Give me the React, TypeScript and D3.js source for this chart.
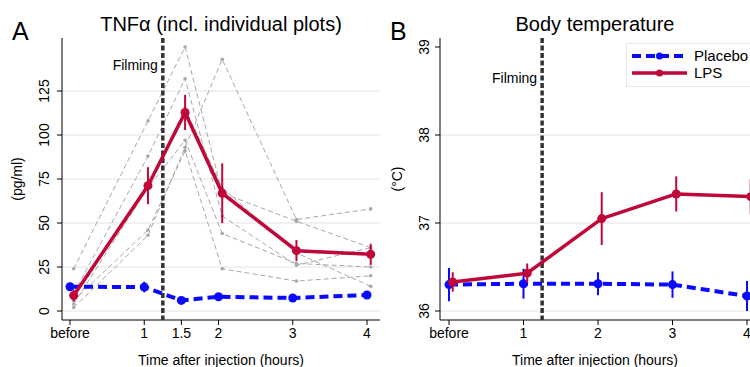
import * as d3 from 'd3'

// panel A: TNF-alpha (pg/ml)
const hoursA = [0, 1, 1.5, 2, 3, 4]
const tickLabelsA = ['before', '1', '1.5', '2', '3', '4']
const yTicksA = [0, 25, 50, 75, 100, 125]
const placeboA = [13.8, 13.6, 6.0, 8.1, 7.4, 9.1]
const placeboErrA = [1.5, 3, 1.5, 1.2, 1.2, 1.2]
const lpsA = [8.8, 71.2, 112.8, 66.9, 34.3, 32.2]
const lpsErrA = [3.3, 10.5, 10, 17, 6, 6]
const individuals = [
  [2, 43, 93, 143, 52, 58],
  [24, 108, 150, 67, 51, 36],
  [8, 70, 97, 44, 27, 25],
  [6, 46, 91, 24, 17, 20],
  [10, 88, 132, 54, 26, 36],
  [4, 70, 115, 70, 33, 14],
]

// panel B: body temperature (°C)
const hoursB = [0, 1, 2, 3, 4]
const tickLabelsB = ['before', '1', '2', '3', '4']
const yTicksB = [36, 37, 38, 39]
const placeboB = [36.3, 36.31, 36.31, 36.3, 36.17]
const placeboErrB = [0.19, 0.17, 0.13, 0.15, 0.17]
const lpsB = [36.33, 36.43, 37.05, 37.33, 37.3]
const lpsErrB = [0.11, 0.11, 0.3, 0.2, 0.2]

const RED = '#c0073a'
const BLUE = '#0a0aff'
const FONT = '"Liberation Sans", Arial, Helvetica, sans-serif'
const LPS_SHIFT = 0.05
const FILMING = 1.25

type PanelProps = {
  letter: string
  title: string
  ylabel: string
  hours: number[]
  tickLabels: string[]
  yTicks: number[]
  gridTicks: number[]
  x: d3.ScaleLinear<number, number>
  y: d3.ScaleLinear<number, number>
  left: number
  right: number
  top: number
  bottom: number
  placebo: number[]
  placeboErr: number[]
  lps: number[]
  lpsErr: number[]
  indiv?: number[][]
  letterX: number
  ylabelX: number
  tickLabelX: number
  filmingY: number
}

function Panel(p: PanelProps) {
  const cx = (p.left + p.right) / 2
  const line = d3.line<[number, number]>().x(d => p.x(d[0])).y(d => p.y(d[1]))
  const placeboPts = p.hours.map((h, i) => [h, p.placebo[i]] as [number, number])
  const lpsPts = p.hours.map((h, i) => [h + LPS_SHIFT, p.lps[i]] as [number, number])
  const midY = (p.top + p.bottom) / 2
  return (
    <g fontFamily={FONT}>
      <text x={p.letterX} y={40} fontSize={25}>{p.letter}</text>
      <text x={cx + (p.letter === 'A' ? 0 : 0)} y={31} fontSize={20} textAnchor="middle">{p.title}</text>
      {p.gridTicks.map(t => (
        <line key={t} x1={p.left} x2={p.right} y1={p.y(t)} y2={p.y(t)} stroke="#e3e3e3" strokeWidth={1} />
      ))}
      {/* axes */}
      <line x1={p.left} x2={p.left} y1={p.top} y2={p.bottom} stroke="#000" strokeWidth={1} />
      <line x1={p.left} x2={p.right} y1={p.bottom} y2={p.bottom} stroke="#000" strokeWidth={1} />
      {p.yTicks.map(t => (
        <g key={t}>
          <line x1={p.left - 5} x2={p.left} y1={p.y(t)} y2={p.y(t)} stroke="#000" />
          <text transform={`translate(${p.tickLabelX},${p.y(t)}) rotate(-90)`} fontSize={14} textAnchor="middle">{t}</text>
        </g>
      ))}
      {p.hours.map((h, i) => (
        <g key={h}>
          <line x1={p.x(h)} x2={p.x(h)} y1={p.bottom} y2={p.bottom + 5} stroke="#000" />
          <text x={p.x(h)} y={338} fontSize={14} textAnchor="middle">{p.tickLabels[i]}</text>
        </g>
      ))}
      <text transform={`translate(${p.ylabelX},${midY}) rotate(-90)`} fontSize={14} textAnchor="middle">{p.ylabel}</text>
      <text x={cx} y={365} fontSize={14} textAnchor="middle">Time after injection (hours)</text>
      {/* individual plots */}
      {p.indiv && p.indiv.map((vals, k) => {
        const pts = p.hours.map((h, i) => [h + LPS_SHIFT, vals[i]] as [number, number])
        return (
          <g key={k}>
            <path d={line(pts) || ''} fill="none" stroke="#a8a8a8" strokeWidth={1} strokeDasharray="5,3" />
            {pts.map((d, i) => <circle key={i} cx={p.x(d[0])} cy={p.y(d[1])} r={1.8} fill="#a8a8a8" />)}
          </g>
        )
      })}
      {/* filming */}
      <line x1={p.x(FILMING)} x2={p.x(FILMING)} y1={p.top} y2={p.bottom} stroke="#333" strokeWidth={3.5} strokeDasharray="5,2.5" />
      <text x={p.x(FILMING) - 5} y={p.filmingY} fontSize={14} textAnchor="end">Filming</text>
      {/* placebo */}
      <path d={line(placeboPts) || ''} fill="none" stroke={BLUE} strokeWidth={4} strokeDasharray="9,5" />
      {placeboPts.map((d, i) => (
        <g key={i}>
          <line x1={p.x(d[0])} x2={p.x(d[0])} y1={p.y(d[1] - p.placeboErr[i])} y2={p.y(d[1] + p.placeboErr[i])} stroke={BLUE} strokeWidth={2} />
          <circle cx={p.x(d[0])} cy={p.y(d[1])} r={4.5} fill={BLUE} />
        </g>
      ))}
      {/* LPS */}
      <path d={line(lpsPts) || ''} fill="none" stroke={RED} strokeWidth={3.5} strokeLinejoin="round" />
      {lpsPts.map((d, i) => (
        <g key={i}>
          <line x1={p.x(d[0])} x2={p.x(d[0])} y1={p.y(d[1] - p.lpsErr[i])} y2={p.y(d[1] + p.lpsErr[i])} stroke={RED} strokeWidth={2} />
          <circle cx={p.x(d[0])} cy={p.y(d[1])} r={4.5} fill={RED} />
        </g>
      ))}
    </g>
  )
}

export default function App() {
  const xA = d3.scaleLinear().domain([0, 4]).range([70, 367])
  const yA = d3.scaleLinear().domain([0, 125]).range([311, 91])
  const xB = d3.scaleLinear().domain([0, 4]).range([449, 747])
  const yB = d3.scaleLinear().domain([36, 39]).range([311, 47])

  return (
    <svg width={750} height={367} style={{ position: 'absolute', left: 0, top: 0, background: '#fff' }}>
      <rect width={750} height={367} fill="#fff" />
      <Panel
        letter="A" title="TNFα (incl. individual plots)" ylabel="(pg/ml)"
        hours={hoursA} tickLabels={tickLabelsA} yTicks={yTicksA} gridTicks={yTicksA}
        x={xA} y={yA} left={62} right={380} top={38} bottom={320}
        placebo={placeboA} placeboErr={placeboErrA} lps={lpsA} lpsErr={lpsErrA}
        indiv={individuals} letterX={12} ylabelX={22} tickLabelX={49} filmingY={70}
      />
      <Panel
        letter="B" title="Body temperature" ylabel="(°C)"
        hours={hoursB} tickLabels={tickLabelsB} yTicks={yTicksB} gridTicks={[36, 37, 38]}
        x={xB} y={yB} left={440} right={750} top={38} bottom={320}
        placebo={placeboB} placeboErr={placeboErrB} lps={lpsB} lpsErr={lpsErrB}
        letterX={390} ylabelX={402} tickLabelX={429} filmingY={83}
      />
      {/* legend */}
      <g fontFamily={FONT}>
        <rect x={626.5} y={43.5} width={130} height={43} fill="#fff" stroke="#e6e6e6" />
        <line x1={632} x2={687} y1={56} y2={56} stroke={BLUE} strokeWidth={4} strokeDasharray="9,5" />
        <circle cx={659.5} cy={56} r={3.5} fill={BLUE} />
        <text x={694} y={61} fontSize={15}>Placebo</text>
        <line x1={632} x2={687} y1={73} y2={73} stroke={RED} strokeWidth={3.5} />
        <circle cx={659.5} cy={73} r={3.5} fill={RED} />
        <text x={694} y={78} fontSize={15}>LPS</text>
      </g>
    </svg>
  )
}
